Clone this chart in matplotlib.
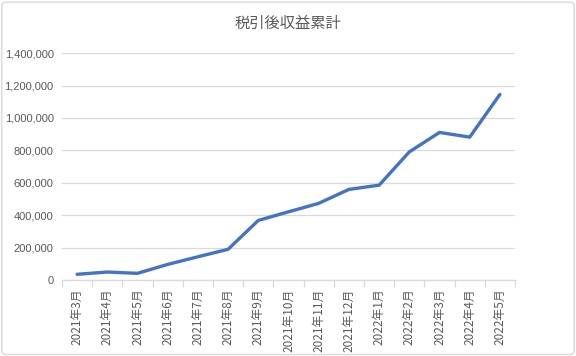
import numpy as np
import matplotlib.pyplot as plt
from matplotlib.patches import FancyBboxPatch
from matplotlib.ticker import FuncFormatter, MultipleLocator

plt.rcParams['font.family'] = ['Noto Sans CJK JP', 'DejaVu Sans']

months = ['2021年3月', '2021年4月', '2021年5月', '2021年6月', '2021年7月',
          '2021年8月', '2021年9月', '2021年10月', '2021年11月', '2021年12月',
          '2022年1月', '2022年2月', '2022年3月', '2022年4月', '2022年5月']
cumulative = [37000, 51000, 43000, 98000, 145000, 191000, 369000, 422000,
              474000, 560000, 586000, 791000, 911000, 882000, 1145000]
title = '税引後収益累計'

grey = '#595959'
light = '#D9D9D9'

fig = plt.figure(figsize=(5.76, 3.56), dpi=100)
fig.patches.append(FancyBboxPatch((0.003, 0.004), 0.994, 0.99, boxstyle='round,pad=0,rounding_size=0.01',
                                  transform=fig.transFigure, fill=False, edgecolor=light, linewidth=1))
ax = fig.add_axes([0.1076, 0.2126, 0.7865, 0.6384])

x = np.arange(len(months))
ax.plot(x, cumulative, color='#4472C4', linewidth=2.4, solid_capstyle='round', solid_joinstyle='round')

ax.set_xlim(-0.5, len(months) - 0.5)
ax.set_ylim(0, 1400000)
ax.yaxis.set_major_locator(MultipleLocator(200000))
ax.yaxis.set_major_formatter(FuncFormatter(lambda v, p: f'{int(v):,}'))
ax.grid(axis='y', color=light, linewidth=0.9)
ax.set_axisbelow(True)

ax.set_xticks(x)
ax.set_xticklabels(months, rotation=90, fontsize=8.5, color=grey)
ax.set_xticks(np.arange(len(months) + 1) - 0.5, minor=True)
ax.tick_params(axis='x', which='major', length=0, pad=6)
ax.tick_params(axis='x', which='minor', length=5, color=light, width=0.9)
ax.tick_params(axis='y', length=0, labelsize=8, labelcolor=grey, pad=6,
               labelfontfamily='Liberation Sans')

for s in ['top', 'right', 'left']:
    ax.spines[s].set_visible(False)
ax.spines['bottom'].set_color(light)
ax.spines['bottom'].set_linewidth(0.9)

fig.text(0.5, 0.935, title, ha='center', va='center', fontsize=11, color=grey)

fig.savefig('out.png', dpi=100)
